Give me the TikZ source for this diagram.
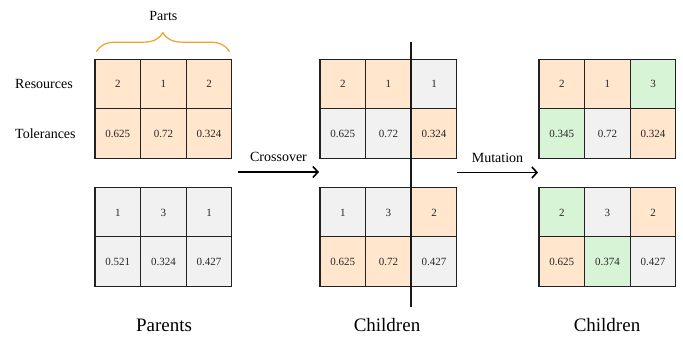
\documentclass[tikz,border=0pt]{standalone}
\usepackage{fontspec}
\setmainfont{Liberation Serif}
\usetikzlibrary{arrows.meta,calc,decorations.pathreplacing}
\definecolor{cell_orange}{RGB}{255,230,204}
\definecolor{cell_gray}{RGB}{241,241,241}
\definecolor{cell_green}{RGB}{216,244,214}
\definecolor{cell_border}{RGB}{34,34,34}
\definecolor{brace_orange}{RGB}{240,160,40}
\tikzset{>={Straight Barb[length=5pt,width=11pt]}}
\tikzstyle{cell} =
  [ rectangle
  , draw=cell_border
  , line width=1.2pt
  , minimum width=45.6pt
  , minimum height=49.5pt
  , inner sep=0pt
  , text=black!85
  , font=\fontsize{11}{13}\selectfont
  ]
\tikzstyle{orange_cell} = [cell, fill=cell_orange]
\tikzstyle{gray_cell}   = [cell, fill=cell_gray]
\tikzstyle{green_cell}  = [cell, fill=cell_green]
\tikzstyle{row_label}   = [anchor=west, inner sep=0pt, font=\fontsize{14}{16}\selectfont]
\tikzstyle{step_label}  = [font=\fontsize{14}{16}\selectfont]
\tikzstyle{group_label} = [font=\fontsize{19}{22}\selectfont]
\def\Resources{Resources}
\def\Tolerances{Tolerances}
\def\Parts{Parts}
\def\Crossover{Crossover}
\def\Mutation{Mutation}
\def\Parents{Parents}
\def\Children{Children}

\begin{document}
\begin{tikzpicture}[x=1pt,y=-1pt]
    \useasboundingbox (0,0) rectangle (683,338);

    \node[row_label] (res_label) at (15,  84)   {\Resources};
    \node[row_label] (tol_label) at (15, 133.5) {\Tolerances};

    % parents
    \foreach \v/\s [count=\i] in {2/orange_cell,1/orange_cell,2/orange_cell}
      \node[\s] (ParentA_Res\i) at (72.2+45.6*\i, 84)    {\v};
    \foreach \v/\s [count=\i] in {0.625/orange_cell,0.72/orange_cell,0.324/orange_cell}
      \node[\s] (ParentA_Tol\i) at (72.2+45.6*\i, 133.5) {\v};
    \foreach \v/\s [count=\i] in {1/gray_cell,3/gray_cell,1/gray_cell}
      \node[\s] (ParentB_Res\i) at (72.2+45.6*\i, 212.5) {\v};
    \foreach \v/\s [count=\i] in {0.521/gray_cell,0.324/gray_cell,0.427/gray_cell}
      \node[\s] (ParentB_Tol\i) at (72.2+45.6*\i, 261.5) {\v};

    % children after crossover
    \foreach \v/\s [count=\i] in {2/orange_cell,1/orange_cell,1/gray_cell}
      \node[\s] (CrossA_Res\i) at (297.2+45.6*\i, 84)    {\v};
    \foreach \v/\s [count=\i] in {0.625/gray_cell,0.72/gray_cell,0.324/orange_cell}
      \node[\s] (CrossA_Tol\i) at (297.2+45.6*\i, 133.5) {\v};
    \foreach \v/\s [count=\i] in {1/gray_cell,3/gray_cell,2/orange_cell}
      \node[\s] (CrossB_Res\i) at (297.2+45.6*\i, 212.5) {\v};
    \foreach \v/\s [count=\i] in {0.625/orange_cell,0.72/orange_cell,0.427/gray_cell}
      \node[\s] (CrossB_Tol\i) at (297.2+45.6*\i, 261.5) {\v};

    % children after mutation
    \foreach \v/\s [count=\i] in {2/orange_cell,1/orange_cell,3/green_cell}
      \node[\s] (MutA_Res\i) at (516.2+45.6*\i, 84)    {\v};
    \foreach \v/\s [count=\i] in {0.345/green_cell,0.72/gray_cell,0.324/orange_cell}
      \node[\s] (MutA_Tol\i) at (516.2+45.6*\i, 133.5) {\v};
    \foreach \v/\s [count=\i] in {2/green_cell,3/gray_cell,2/orange_cell}
      \node[\s] (MutB_Res\i) at (516.2+45.6*\i, 212.5) {\v};
    \foreach \v/\s [count=\i] in {0.625/orange_cell,0.374/green_cell,0.427/gray_cell}
      \node[\s] (MutB_Tol\i) at (516.2+45.6*\i, 261.5) {\v};

    % parts brace
    \draw[brace_orange, line width=1.2pt, decorate, decoration={brace, amplitude=19pt}]
      ($(ParentA_Res1.north west)+(2,-7)$) -- ($(ParentA_Res3.north east)+(-3,-7)$);
    \node[step_label] (parts) at (163.4,16) {\Parts};

    % crossover cut
    \coordinate (cut_top)    at (411, 42);
    \coordinate (cut_bottom) at (411, 306.5);
    \draw[line width=1.3pt, black!90] (cut_top) -- (cut_bottom);

    \coordinate (cross_start) at (238, 172);
    \coordinate (cross_end)   at (319, 172);
    \coordinate (mut_start)   at (457, 172.5);
    \coordinate (mut_end)     at (538, 172.5);
    \draw[->, line width=1.6pt] (cross_start) -- node[step_label, above=6pt] {\Crossover} (cross_end);
    \draw[->, line width=1.6pt] (mut_start)   -- node[step_label, above=6pt] {\Mutation}  (mut_end);

    \node[group_label] (parents_label)   at (164, 325) {\Parents};
    \node[group_label] (children_label)  at (387, 325) {\Children};
    \node[group_label] (mutated_label)   at (607, 325) {\Children};
\end{tikzpicture}
\end{document}
